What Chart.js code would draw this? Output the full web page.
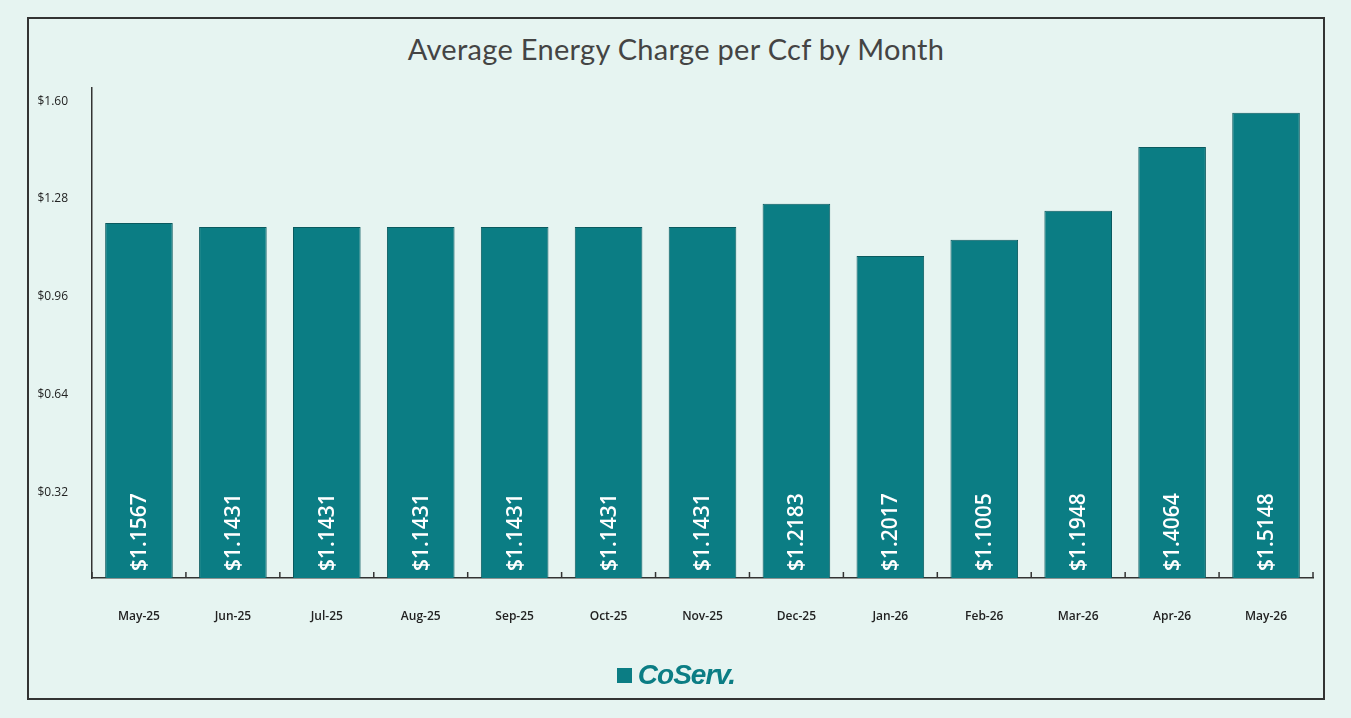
<!DOCTYPE html>
<html>
<head>
<meta charset="utf-8">
<script src="https://cdn.jsdelivr.net/npm/chart.js@4"></script>
<style>
  html, body { margin: 0; padding: 0; background: #e6f4f1; }
  body { width: 1351px; height: 718px; position: relative; overflow: hidden; font-family: 'Lato', sans-serif; }
  #frame { position: absolute; left: 27px; top: 17px; width: 1294px; height: 679px; border: 2px solid #333; }
  #title { position: absolute; left: 0; right: 0; top: 12px; text-align: center; font-size: 29px; color: #444; font-weight: 400; letter-spacing: 0.3px; }
  #logo { position: absolute; left: 0; right: 0; top: 640px; text-align: center; color: #0b7d84; font-family: 'Liberation Sans', sans-serif; font-weight: bold; font-style: italic; font-size: 28px; letter-spacing: -1px; }
  #logo span.sq { display: inline-block; width: 15px; height: 15px; background: #0b7d84; margin-right: 6px; vertical-align: 1px; }
  canvas { position: absolute; left: 0; top: 0; }
</style>
</head>
<body>
<div id="frame">
  <div id="title">Average Energy Charge per Ccf by Month</div>
  <canvas id="c" width="1294" height="679"></canvas>
  <div id="logo"><span class="sq"></span>CoServ.</div>
</div>
<script>
const months = ['May-25', 'Jun-25', 'Jul-25', 'Aug-25', 'Sep-25', 'Oct-25', 'Nov-25', 'Dec-25', 'Jan-26', 'Feb-26', 'Mar-26', 'Apr-26', 'May-26'];
// bar heights as drawn in the picture
const barHeights = [1.201, 1.188, 1.188, 1.188, 1.188, 1.188, 1.188, 1.264, 1.093, 1.146, 1.241, 1.450, 1.562];
// value labels as printed on the bars
const barLabels = ['$1.1567', '$1.1431', '$1.1431', '$1.1431', '$1.1431', '$1.1431', '$1.1431', '$1.2183', '$1.2017', '$1.1005', '$1.1948', '$1.4064', '$1.5148'];
const yTicks = [0.32, 0.64, 0.96, 1.28, 1.60];

const barText = {
    id: 'barText',
    afterDatasetsDraw(chart) {
        const ctx = chart.ctx;
        const meta = chart.getDatasetMeta(0);
        ctx.save();
        ctx.fillStyle = '#ffffff';
        ctx.font = '600 21px "Open Sans", sans-serif';
        ctx.textAlign = 'left';
        ctx.textBaseline = 'middle';
        meta.data.forEach((bar, i) => {
            ctx.save();
            ctx.translate(bar.x + 1, chart.chartArea.bottom - 7);
            ctx.rotate(-Math.PI / 2);
            ctx.fillText(barLabels[i], 0, 0);
            ctx.restore();
        });
        // small category ticks standing on the x axis
        const x = chart.scales.x;
        const b = chart.chartArea.bottom;
        ctx.strokeStyle = '#333';
        ctx.lineWidth = 1.5;
        for (let i = 0; i <= months.length; i++) {
            const px = x.getPixelForValue(i - 0.5);
            ctx.beginPath();
            ctx.moveTo(px, b);
            ctx.lineTo(px, b - 6);
            ctx.stroke();
        }
        ctx.restore();
    }
};

new Chart(document.getElementById('c'), {
    type: 'bar',
    data: {
        labels: months,
        datasets: [{
            data: barHeights,
            backgroundColor: '#0b7d84',
            borderColor: '#0a5a5f',
            borderWidth: 1,
            borderSkipped: 'bottom',
            barPercentage: 0.72,
            categoryPercentage: 1
        }]
    },
    options: {
        responsive: false,
        animation: false,
        layout: { padding: { top: 69, right: 10, left: 0, bottom: 0 } },
        plugins: { legend: { display: false }, tooltip: { enabled: false } },
        scales: {
            x: {
                grid: { display: false },
                border: { display: true, color: '#333', width: 1.5 },
                ticks: { color: '#222', padding: 23, font: { size: 12, weight: '600', family: '"Open Sans", sans-serif' } },
                afterFit(s) { s.height = 120; }
            },
            y: {
                min: 0.039,
                max: 1.643,
                grid: { display: false },
                border: { display: true, color: '#333', width: 1.5 },
                afterBuildTicks(s) { s.ticks = yTicks.map(v => ({ value: v })); },
                ticks: {
                    color: '#222',
                    padding: 16,
                    font: { size: 12, family: '"Open Sans", sans-serif' },
                    callback: v => '$' + Number(v).toFixed(2)
                },
                afterFit(s) { s.width = 63; }
            }
        }
    },
    plugins: [barText]
});
</script>
</body>
</html>
